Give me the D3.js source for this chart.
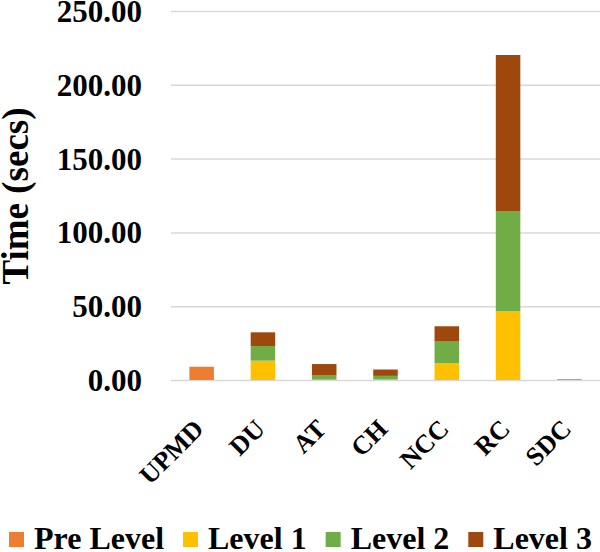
<!DOCTYPE html>
<html>
<head>
<meta charset="utf-8">
<script src="https://d3js.org/d3.v7.min.js"></script>
<style>
  body { margin: 0; background: #fff; }
  svg text { font-family: "Liberation Serif", Tinos, "Times New Roman", "Noto Serif", "DejaVu Serif", serif; font-weight: bold; fill: #000; }
</style>
</head>
<body>
<div id="chart"></div>
<script>
// Categories and stacked series values (seconds)
var categories = ['UPMD', 'DU', 'AT', 'CH', 'NCC', 'RC', 'SDC']
var preLevel = [9.0, 0, 0, 0, 0, 0, 0]
var level1 = [0, 13.1, 0.3, 0.4, 11.5, 46.7, 0.1]
var level2 = [0, 9.9, 3.1, 2.4, 14.9, 67.8, 0.1]
var level3 = [0, 9.3, 7.4, 4.3, 10.0, 105.7, 0.3]
var yTicks = [0, 50, 100, 150, 200, 250]

var seriesNames = ['Pre Level', 'Level 1', 'Level 2', 'Level 3']
var seriesColours = ['#ED7D31', '#FFC000', '#70AD47', '#9E480E']

var width = 600
var height = 552

// Plot area
var plot = { left: 171, right: 600, top: 11, bottom: 380 }

// Build rows for d3.stack
var rows = categories.map(function (c, i) {
  return { cat: c, 'Pre Level': preLevel[i], 'Level 1': level1[i], 'Level 2': level2[i], 'Level 3': level3[i] }
})

var stacked = d3.stack().keys(seriesNames)(rows)

var svg = d3.select('#chart').append('svg')
  .attr('width', width)
  .attr('height', height)

var x = d3.scaleBand()
  .domain(categories)
  .range([plot.left, plot.right])
  .paddingInner(0.6)
  .paddingOuter(0.3)

var y = d3.scaleLinear()
  .domain([0, 250])
  .range([plot.bottom, plot.top])

// Gridlines and tick labels
var yAxis = d3.axisLeft(y)
  .tickValues(yTicks)
  .tickSize(-(plot.right - plot.left))
  .tickPadding(29)
  .tickFormat(d3.format('.2f'))

var yAxisG = svg.append('g')
  .attr('transform', 'translate(' + plot.left + ',0)')
  .call(yAxis)
  .attr('font-family', null)

yAxisG.select('.domain').remove()
yAxisG.selectAll('line')
  .attr('stroke', '#d9d9d9')
  .attr('stroke-width', 1.5)
yAxisG.selectAll('text')
  .style('font-size', '31px')
  .attr('dy', '0.34em')

// Stacked bars
svg.append('g')
  .selectAll('g')
  .data(stacked)
  .enter().append('g')
  .attr('fill', function (d, i) { return seriesColours[i] })
  .selectAll('rect')
  .data(function (d) { return d })
  .enter().append('rect')
  .attr('x', function (d) { return x(d.data.cat) })
  .attr('width', x.bandwidth())
  .attr('y', function (d) { return y(d[1]) })
  .attr('height', function (d) { return y(d[0]) - y(d[1]) })

// Rotated category labels
svg.append('g')
  .selectAll('text')
  .data(categories)
  .enter().append('text')
  .attr('transform', function (d) {
    return 'translate(' + (x(d) + x.bandwidth() / 2 - 9) + ',418) rotate(-45)'
  })
  .attr('text-anchor', 'end')
  .attr('dy', '0.68em')
  .style('font-size', '26px')
  .text(function (d) { return d })

// Y axis title
svg.append('text')
  .attr('transform', 'translate(28,196) rotate(-90)')
  .attr('text-anchor', 'middle')
  .style('font-size', '37px')
  .text('Time (secs)')

// Legend, laid out left to right
var legend = svg.append('g')
var legendX = 9
seriesNames.forEach(function (name, i) {
  legend.append('rect')
    .attr('x', legendX)
    .attr('y', 532)
    .attr('width', 15)
    .attr('height', 15)
    .attr('fill', seriesColours[i])
  var t = legend.append('text')
    .attr('x', legendX + 25)
    .attr('y', 549)
    .style('font-size', '32px')
    .text(name)
  legendX += 25 + t.node().getComputedTextLength() + 19
})
</script>
</body>
</html>
